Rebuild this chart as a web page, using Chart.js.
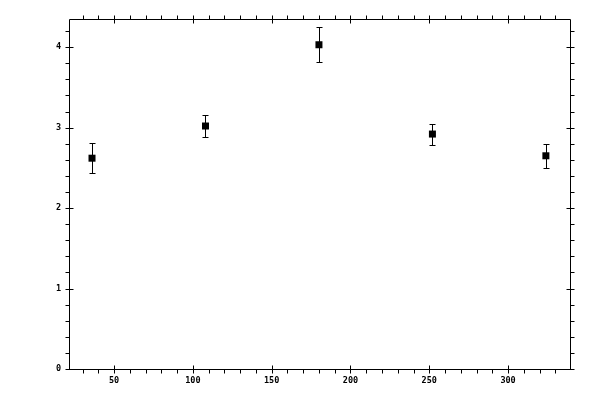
<!DOCTYPE html>
<html>
<head>
<meta charset="utf-8">
<script src="https://cdn.jsdelivr.net/npm/chart.js@4/dist/chart.umd.min.js"></script>
<style>
html,body{margin:0;padding:0;background:#fff;}
canvas{display:block;}
</style>
</head>
<body>
<canvas id="c" width="600" height="400"></canvas>
<script>
const xValues = [36, 108, 180, 252, 324];
const yValues = [2.62, 3.02, 4.03, 2.92, 2.65];
const yErrors = [0.19, 0.14, 0.22, 0.13, 0.15];
const xTicks = [50, 100, 150, 200, 250, 300];
const yTicks = [0, 1, 2, 3, 4];
const xMinorStep = 10;
const yMinorStep = 0.2;
const xRange = [21.4, 339.3];
const yRange = [0, 4.35];

const points = xValues.map((x, i) => ({x: x, y: yValues[i]}));

const frameAndErrors = {
  id: 'frameAndErrors',
  beforeDatasetsDraw(chart) {
    const ctx = chart.ctx;
    const xs = chart.scales.x, ys = chart.scales.y;
    ctx.save();
    ctx.strokeStyle = '#000';
    ctx.lineWidth = 1;
    const cap = 2.5;
    yErrors.forEach((e, i) => {
      const px = Math.round(xs.getPixelForValue(xValues[i])) + 0.5;
      const pt = Math.round(ys.getPixelForValue(yValues[i] + e)) + 0.5;
      const pb = Math.round(ys.getPixelForValue(yValues[i] - e)) + 0.5;
      ctx.beginPath();
      ctx.moveTo(px, pt); ctx.lineTo(px, pb);
      ctx.moveTo(px - cap - 0.5, pt); ctx.lineTo(px + cap + 0.5, pt);
      ctx.moveTo(px - cap - 0.5, pb); ctx.lineTo(px + cap + 0.5, pb);
      ctx.stroke();
    });
    ctx.restore();
  },
  afterDraw(chart) {
    const ctx = chart.ctx;
    const xs = chart.scales.x, ys = chart.scales.y;
    const a = chart.chartArea;
    const L = Math.round(a.left) + 0.5, R = Math.round(a.right) + 0.5;
    const T = Math.round(a.top) + 0.5, B = Math.round(a.bottom) + 0.5;
    ctx.save();
    ctx.strokeStyle = '#000';
    ctx.lineWidth = 1;
    ctx.beginPath();
    ctx.rect(L, T, R - L, B - T);
    const tk = 4;
    for (let v = Math.ceil(xRange[0] / xMinorStep) * xMinorStep; v <= xRange[1]; v += xMinorStep) {
      const px = Math.round(xs.getPixelForValue(v)) + 0.5;
      const major = xTicks.includes(v);
      if (major) {
        ctx.moveTo(px, B - tk); ctx.lineTo(px, B + tk);
        ctx.moveTo(px, T - tk); ctx.lineTo(px, T + tk);
      } else {
        ctx.moveTo(px, B); ctx.lineTo(px, B + tk);
        ctx.moveTo(px, T); ctx.lineTo(px, T - tk);
      }
    }
    for (let k = 0; k * yMinorStep <= yRange[1] + 1e-9; k++) {
      const v = +(k * yMinorStep).toFixed(6);
      const py = Math.round(ys.getPixelForValue(v)) + 0.5;
      const major = yTicks.includes(v);
      if (major) {
        ctx.moveTo(L - tk, py); ctx.lineTo(L + tk, py);
        ctx.moveTo(R - tk, py); ctx.lineTo(R + tk, py);
      } else {
        ctx.moveTo(L, py); ctx.lineTo(L - tk, py);
        ctx.moveTo(R, py); ctx.lineTo(R + tk, py);
      }
    }
    ctx.stroke();
    ctx.restore();
  }
};

new Chart(document.getElementById('c'), {
  type: 'scatter',
  data: {
    datasets: [{
      data: points,
      pointStyle: 'rect',
      pointRadius: 4.95,
      pointHoverRadius: 4.95,
      backgroundColor: '#000',
      borderColor: '#000',
      borderWidth: 0
    }]
  },
  options: {
    responsive: false,
    devicePixelRatio: 1,
    animation: false,
    events: [],
    layout: { padding: { top: 19, right: 30, left: 0, bottom: 0 } },
    plugins: { legend: { display: false }, tooltip: { enabled: false } },
    scales: {
      x: {
        type: 'linear',
        min: xRange[0], max: xRange[1],
        grid: { display: false, drawTicks: false, tickLength: 0 },
        border: { display: false },
        afterBuildTicks: s => { s.ticks = xTicks.map(v => ({value: v})); },
        afterFit: s => { s.height = 31; },
        ticks: {
          font: { family: 'DejaVu Sans Mono', size: 8.5, weight: 'bold' },
          color: '#000',
          padding: 7,
          maxRotation: 0,
          autoSkip: false
        }
      },
      y: {
        type: 'linear',
        min: yRange[0], max: yRange[1],
        grid: { display: false, drawTicks: false, tickLength: 0 },
        border: { display: false },
        afterBuildTicks: s => { s.ticks = yTicks.map(v => ({value: v})); },
        afterFit: s => { s.width = 69; },
        ticks: {
          font: { family: 'DejaVu Sans Mono', size: 8.5, weight: 'bold' },
          color: '#000',
          padding: 8
        }
      }
    }
  },
  plugins: [frameAndErrors]
});
</script>
</body>
</html>
